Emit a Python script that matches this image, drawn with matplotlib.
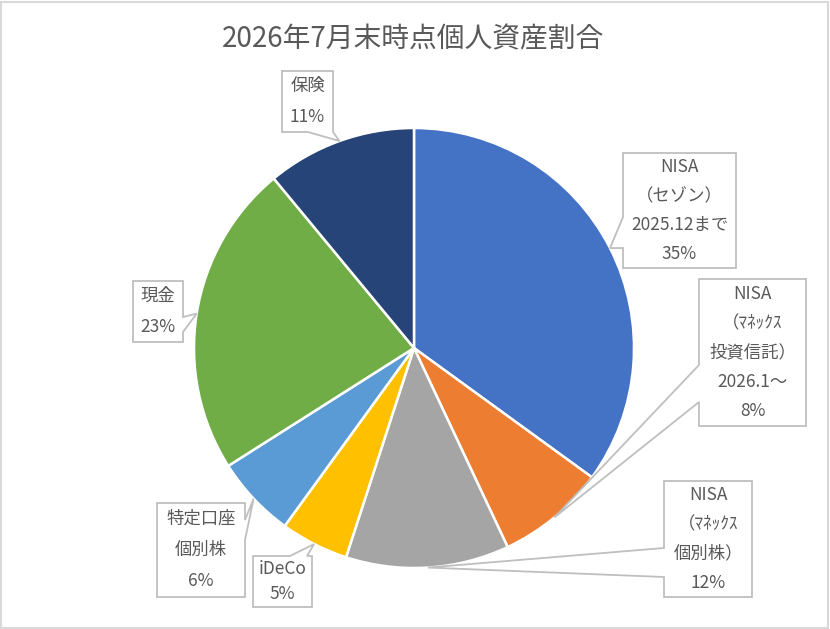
import matplotlib
matplotlib.use('Agg')
import numpy as np
import matplotlib.pyplot as plt
from matplotlib.patches import Polygon, Rectangle

plt.rcParams['font.family'] = ['Noto Sans CJK JP', 'DejaVu Sans']

title = '2026年7月末時点個人資産割合'
names = ['NISA\n（セゾン）\n2025.12まで',
         'NISA\n（ﾏﾈｯｸｽ\n投資信託）\n2026.1～',
         'NISA\n（ﾏﾈｯｸｽ\n個別株）',
         'iDeCo',
         '特定口座\n個別株',
         '現金',
         '保険']
values = [35, 8, 12, 5, 6, 23, 11]
colors = ['#4472C4', '#ED7D31', '#A5A5A5', '#FFC000', '#5B9BD5', '#70AD47', '#264478']

# callout boxes in pixel coords (x0, y0, x1, y1), side of the pointer, pointer base
boxes = [(623, 153, 736, 268), (699, 279, 806, 426), (664, 481, 752, 597),
         (253, 556, 312, 607), (157, 503, 245, 597), (133, 281, 183, 342),
         (282, 71, 333, 132)]
sides = ['left', 'left', 'left', 'top', 'right', 'right', 'bottom']
bases = [(217, 248), (365, 402), (548, 577), (290, 307), (520, 540), (317, 332), (308, 333)]

W, H = 830, 629
cx, cy, r = 414, 348, 220

fig = plt.figure(figsize=(W / 100, H / 100), dpi=100)
ax = fig.add_axes([0, 0, 1, 1])
wedges, _ = ax.pie(values, colors=colors, startangle=90, counterclock=False,
                   center=(cx, H - cy), radius=r,
                   wedgeprops=dict(edgecolor='white', linewidth=1.8))
ax.set_xlim(0, W)
ax.set_ylim(0, H)
ax.axis('off')

gray = '#BFBFBF'
txt = '#595959'
for w, name, v, (x0, y0, x1, y1), side, (b1, b2) in zip(wedges, names, values, boxes, sides, bases):
    th = np.deg2rad((w.theta1 + w.theta2) / 2)
    tip = (cx + r * np.cos(th), cy - r * np.sin(th))
    if side == 'left':
        pts = [(x0, y0), (x1, y0), (x1, y1), (x0, y1), (x0, b2), tip, (x0, b1)]
    elif side == 'right':
        pts = [(x0, y0), (x1, y0), (x1, b1), tip, (x1, b2), (x1, y1), (x0, y1)]
    elif side == 'top':
        pts = [(x0, y0), (b1, y0), tip, (b2, y0), (x1, y0), (x1, y1), (x0, y1)]
    else:
        pts = [(x0, y0), (x1, y0), (x1, y1), (b2, y1), tip, (b1, y1), (x0, y1)]
    pts = [(px, H - py) for px, py in pts]
    ax.add_patch(Polygon(pts, closed=True, facecolor='white', edgecolor=gray,
                         linewidth=1.3, zorder=3))
    lines = name.split('\n') + ['%d%%' % v]
    n = len(lines)
    for i, s in enumerate(lines):
        yy = y0 + (i + 0.5) * (y1 - y0) / n
        ax.text((x0 + x1) / 2, H - yy, s, ha='center', va='center',
                fontsize=12.5, color=txt, zorder=4)

ax.text(413, H - 39, title, ha='center', va='center', fontsize=20, color=txt)
ax.add_patch(Rectangle((0.5, 1), W - 2.5, H - 2.5, fill=False, edgecolor='#D9D9D9', linewidth=1.5))

plt.savefig('out.png', dpi=100)
